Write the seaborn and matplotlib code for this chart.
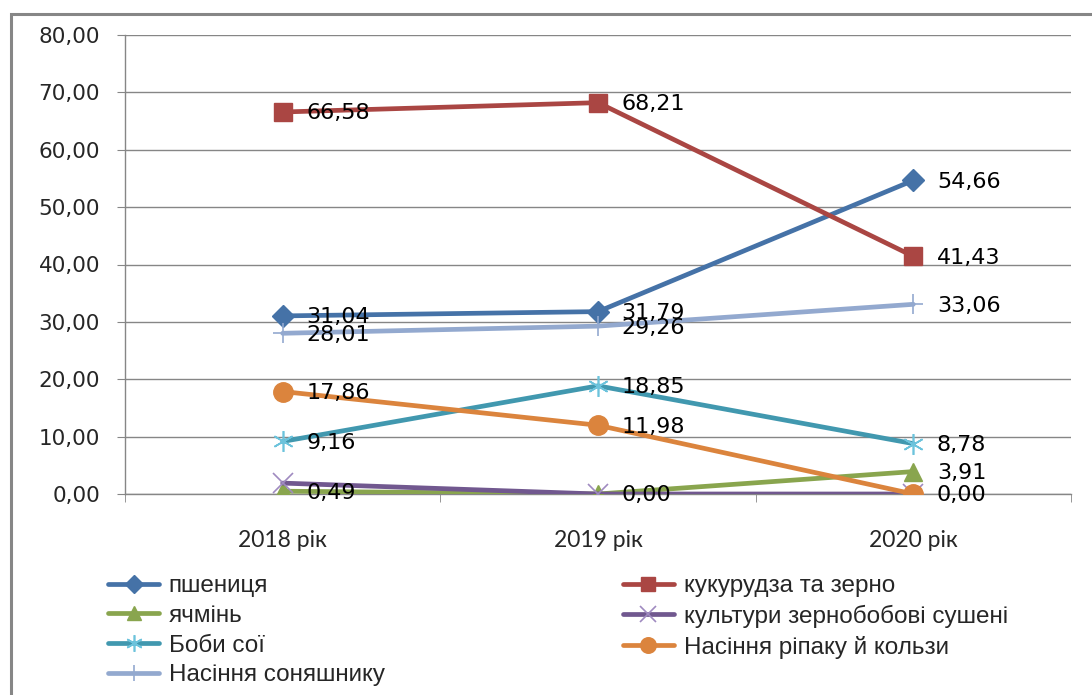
import numpy as np
import pandas as pd
import matplotlib
matplotlib.use("Agg")
import matplotlib.pyplot as plt
import seaborn as sns
from matplotlib.patches import Rectangle

# ---- data ----
years = ["2018 рік", "2019 рік", "2020 рік"]
series_names = ["пшениця", "кукурудза та зерно", "ячмінь", "культури зернобобові сушені",
                "Боби сої", "Насіння ріпаку й кользи", "Насіння соняшнику"]
wheat = [31.04, 31.79, 54.66]
corn = [66.58, 68.21, 41.43]
barley = [0.49, 0.00, 3.91]
legumes = [1.90, 0.00, 0.00]
soy = [9.16, 18.85, 8.78]
rapeseed = [17.86, 11.98, 0.00]
sunflower = [28.01, 29.26, 33.06]
show_labels = [True, True, True, False, True, True, True]

values = [wheat, corn, barley, legumes, soy, rapeseed, sunflower]

# ---- styles ----
line_colors = ["#4572A7", "#AA4643", "#89A54E", "#71588F", "#4198AF", "#DB843D", "#93A9CF"]
marker_face = ["#4572A7", "#AA4643", "#89A54E", "none", "none", "#DB843D", "none"]
marker_edge = ["#4572A7", "#AA4643", "#89A54E", "#9F8AC0", "#6CC3DC", "#DB843D", "#93A9CF"]
markers = ["D", "s", "^", "x", (6, 2, 0), "o", "+"]
msizes = [11, 13, 13, 14, 15, 14, 15]
medgew = [1, 1, 1, 1.2, 1.2, 1, 1.2]

sns.set_style("white")
plt.rcParams["font.family"] = ["DejaVu Sans"]

fig = plt.figure(figsize=(10.92, 6.95), dpi=100)
ax = fig.add_axes([125 / 1092, 1 - 494 / 695, (1071 - 125) / 1092, (494 - 35) / 695])

x = np.arange(len(years))
for i, (name, vals) in enumerate(zip(series_names, values)):
    sns.lineplot(x=x, y=vals, ax=ax, color=line_colors[i], linewidth=3.4,
                 marker=markers[i], markersize=msizes[i],
                 markerfacecolor=marker_face[i], markeredgecolor=marker_edge[i],
                 markeredgewidth=medgew[i], label=name, zorder=3 + i)

for i, vals in enumerate(values):
    if not show_labels[i]:
        continue
    for xi, v in zip(x, vals):
        ax.annotate(f"{v:.2f}".replace(".", ","), (xi, v), xytext=(17, -1),
                    textcoords="offset points", ha="left", va="center",
                    fontsize=16, color="black", zorder=20)

ax.set_xlim(-0.5, 2.5)
ax.set_ylim(0, 80)
ax.set_yticks(np.arange(0, 81, 10))
ax.set_yticklabels([f"{t:.2f}".replace(".", ",") for t in np.arange(0, 81, 10)], fontsize=15.5)
ax.set_xticks(x)
ax.set_xticklabels(years, fontsize=16.5, family=["Lato", "DejaVu Sans"])
ax.set_xticks([-0.5, 0.5, 1.5, 2.5], minor=True)
ax.tick_params(axis="x", which="major", length=0, pad=26)
ax.tick_params(axis="x", which="minor", length=6, color="#868686", direction="out", bottom=True)
ax.tick_params(axis="y", length=6, color="#868686", direction="out", pad=12, left=True)
ax.yaxis.grid(True, color="#868686", linewidth=1)
ax.xaxis.grid(False)
ax.set_axisbelow(True)
for s in ["top", "right"]:
    ax.spines[s].set_visible(False)
for s in ["left", "bottom"]:
    ax.spines[s].set_color("#868686")
    ax.spines[s].set_linewidth(1)
ax.set_xlabel("")
ax.set_ylabel("")

handles, labels = ax.get_legend_handles_labels()
ax.get_legend().remove()
order = [0, 2, 4, 6, 1, 3, 5]
fig.legend([handles[k] for k in order], [labels[k] for k in order],
           loc="upper left", bbox_to_anchor=(108 / 1092, 1 - 575 / 695), ncol=2,
           frameon=False, handlelength=2.1, handletextpad=0.4,
           labelspacing=0.32, columnspacing=9.8, borderaxespad=0, borderpad=0,
           markerscale=0.8,
           prop={"family": ["Liberation Sans", "DejaVu Sans"], "size": 17.5})

# outer chart frame (partially visible)
fig.patches.append(Rectangle((11 / 1092, -0.1), 1.2, 1.1 - 14 / 695,
                             transform=fig.transFigure, fill=False,
                             edgecolor="#868686", linewidth=2.2, zorder=0))

fig.savefig("out.png", dpi=100)
